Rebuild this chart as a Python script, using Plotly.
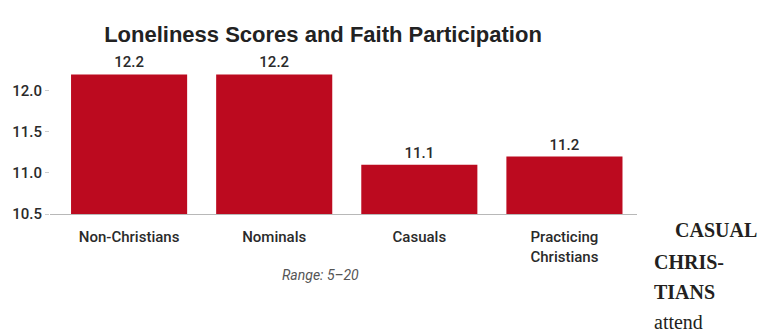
import plotly.graph_objects as go

categories = ["Non-Christians", "Nominals", "Casuals", "Practicing<br>Christians"]
scores = [12.2, 12.2, 11.1, 11.2]
y_ticks = [10.5, 11.0, 11.5, 12.0]
y_tick_labels = ["10.5", "11.0", "11.5", "12.0"]
title_text = "Loneliness Scores and Faith Participation"
note_text = "Range: 5–20"
side_lines = [("CASUAL", True), ("CHRIS-", True), ("TIANS", True), ("attend", False)]

W, H = 761, 334
L, R, T, B = 50, 124, 58, 120
PW, PH = W - L - R, H - T - B

def px(x):
    return (x - L) / PW

def py(y):
    return (H - B - y) / PH

narrow = "Roboto, Liberation Sans Narrow, sans-serif"

fig = go.Figure()
fig.add_trace(go.Bar(
    x=list(range(len(categories))),
    y=scores,
    marker=dict(color="#BC0A1F", line=dict(width=0)),
    text=[f"{v:.1f}" for v in scores],
    textposition="outside",
    textfont=dict(family=narrow, size=15, color="#2a2a2a", weight=500),
    cliponaxis=False,
))

fig.update_layout(
    width=W, height=H,
    margin=dict(l=L, r=R, t=T, b=B),
    paper_bgcolor="white", plot_bgcolor="white",
    bargap=0.2,
    showlegend=False,
    font=dict(family=narrow, color="#333"),
    title=dict(text=f"<b>{title_text}</b>", xref="container", yref="container",
               x=323 / W, y=1 - 34 / H, xanchor="center", yanchor="middle",
               font=dict(family="Liberation Sans, Arial, sans-serif", size=22, color="#222")),
)
fig.update_xaxes(
    tickmode="array", tickvals=list(range(len(categories))), ticktext=categories,
    range=[-0.545, 3.5], showgrid=False, zeroline=False,
    showline=True, linecolor="#b8b8b8", linewidth=1, ticks="",
    tickfont=dict(family=narrow, size=15, color="#2a2a2a", weight=500),
    ticklabelstandoff=9,
)
fig.update_yaxes(
    range=[10.5, 12.4], tickmode="array", tickvals=y_ticks, ticktext=y_tick_labels,
    showgrid=False, zeroline=False, showline=False,
    ticks="outside", ticklen=4, tickcolor="#cccccc",
    tickfont=dict(family=narrow, size=15, color="#2a2a2a", weight=500),
)

fig.add_annotation(x=px(320), y=py(275), xref="paper", yref="paper",
                   text=f"<i>{note_text}</i>", showarrow=False,
                   font=dict(family=narrow, size=14, color="#555"),
                   xanchor="center", yanchor="middle")

side_y = [230, 262, 292, 322]
side_x = [673, 652, 652, 652]
for (t, bold), yy, xx in zip(side_lines, side_y, side_x):
    fig.add_annotation(x=px(xx), y=py(yy), xref="paper", yref="paper",
                       text=f"<b>{t}</b>" if bold else t, showarrow=False,
                       font=dict(family="Liberation Serif, DejaVu Serif, serif", size=20, color="#231f20"),
                       xanchor="left", yanchor="middle")

fig.write_html("out.html")
